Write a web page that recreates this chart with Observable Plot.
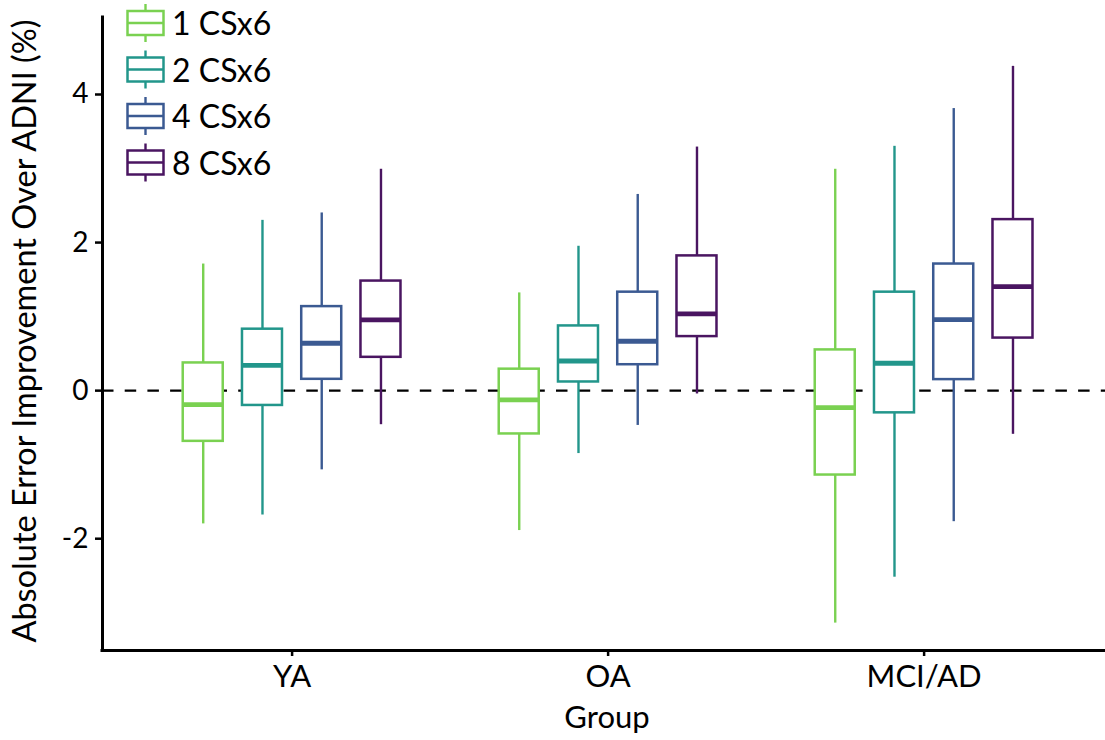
<!DOCTYPE html>
<html>
<head>
<meta charset="utf-8">
<script src="https://cdn.jsdelivr.net/npm/d3@7"></script>
<script src="https://cdn.jsdelivr.net/npm/@observablehq/plot@0.6"></script>
<style>
  html, body { margin: 0; padding: 0; background: white; overflow: hidden; }
  #wrap { position: relative; width: 1105px; height: 740px; }
  #legend { position: absolute; left: 0; top: 0; pointer-events: none; }
</style>
</head>
<body>
<div id="wrap"></div>
<script>
// ---- data ----
const groups = ["YA", "OA", "MCI/AD"];
const series = ["1 CSx6", "2 CSx6", "4 CSx6", "8 CSx6"];
const colors = ["#7AD151", "#22968B", "#3B5A92", "#4A1561"];
// values ordered group-major: YA(1,2,4,8), OA(1,2,4,8), MCI/AD(1,2,4,8)
const lower  = [-1.80, -1.68, -1.07, -0.46,  -1.89, -0.85, -0.47, -0.045,  -3.14, -2.52, -1.77, -0.59];
const q1     = [-0.685, -0.20, 0.153, 0.45,  -0.585, 0.117, 0.35, 0.73,    -1.14, -0.30, 0.149, 0.71];
const median = [-0.19, 0.34, 0.64, 0.955,    -0.126, 0.40, 0.667, 1.036,   -0.23, 0.37, 0.96, 1.405];
const q3     = [0.374, 0.83, 1.135, 1.48,    0.29, 0.874, 1.33, 1.82,      0.55, 1.33, 1.71, 2.31];
const upper  = [1.71, 2.30, 2.40, 2.99,      1.32, 1.95, 2.65, 3.29,       2.99, 3.30, 3.81, 4.38];
const yTicks = [-2, 0, 2, 4];
const yLabel = "Absolute Error Improvement Over ADNI (%)";
const xLabel = "Group";

// ---- layout helpers ----
const dodge = 0.1875;     // spacing between series within a group
const boxHalf = 0.0633;   // half box width
const xDomain = [0.4, 3.574];
const yDomain = [-3.51, 5.04];

const rows = groups.flatMap((g, gi) => series.map((s, si) => {
  const k = gi * series.length + si;
  return {group: g, series: s, pos: gi + 1 + (si - (series.length - 1) / 2) * dodge,
          lower: lower[k], q1: q1[k], median: median[k], q3: q3[k], upper: upper[k]};
}));

const font = "Lato, 'Open Sans', sans-serif";

const chart = Plot.plot({
  width: 1105,
  height: 740,
  marginLeft: 102,
  marginRight: 0,
  marginTop: 17,
  marginBottom: 90,
  style: {fontFamily: font, color: "black", background: "white", overflow: "visible"},
  x: {domain: xDomain},
  y: {domain: yDomain},
  color: {domain: series, range: colors},
  marks: [
    Plot.ruleY([0], {stroke: "black", strokeWidth: 2.4, strokeDasharray: "11.5,11.2"}),
    Plot.ruleX(rows, {x: "pos", y1: "lower", y2: "q1", stroke: "series", strokeWidth: 2.4}),
    Plot.ruleX(rows, {x: "pos", y1: "q3", y2: "upper", stroke: "series", strokeWidth: 2.4}),
    Plot.rect(rows, {x1: d => d.pos - boxHalf, x2: d => d.pos + boxHalf, y1: "q1", y2: "q3",
                     fill: "white", stroke: "series", strokeWidth: 2.5}),
    Plot.ruleY(rows, {y: "median", x1: d => d.pos - boxHalf, x2: d => d.pos + boxHalf,
                      stroke: "series", strokeWidth: 4.8}),
    // axis lines
    Plot.ruleX([xDomain[0]], {stroke: "black", strokeWidth: 3, strokeLinecap: "square"}),
    Plot.ruleY([yDomain[0]], {stroke: "black", strokeWidth: 3, strokeLinecap: "square"}),
    Plot.axisY({ticks: yTicks, tickFormat: d => String(d), tickSize: 7, tickPadding: 7,
                fontSize: 28, strokeWidth: 2.5, label: null}),
    Plot.axisX({ticks: groups.map((g, i) => i + 1), tickFormat: d => groups[d - 1],
                tickSize: 6, tickPadding: 8, fontSize: 31, strokeWidth: 2.5, label: null}),
    Plot.text([yLabel], {frameAnchor: "left", textAnchor: "middle", dx: -77, dy: -3, rotate: -90,
                         fontSize: 32.5, fill: "black"}),
    Plot.text([xLabel], {frameAnchor: "bottom", dx: 3, dy: 77, fontSize: 31, fill: "black"})
  ]
});

const wrap = document.getElementById("wrap");
wrap.appendChild(chart);

// ---- legend (overlay, top-left inside the panel) ----
const leg = d3.select(wrap).append("svg")
  .attr("id", "legend").attr("width", 400).attr("height", 200)
  .style("font-family", font);
const item = leg.selectAll("g").data(series).join("g")
  .attr("transform", (d, i) => `translate(0, ${i * 46.5})`);
item.append("line").attr("x1", 145.5).attr("x2", 145.5).attr("y1", 4).attr("y2", 42)
  .attr("stroke", (d, i) => colors[i]).attr("stroke-width", 2.4);
item.append("rect").attr("x", 127.5).attr("y", 11).attr("width", 36).attr("height", 24)
  .attr("fill", "white").attr("stroke", (d, i) => colors[i]).attr("stroke-width", 2.5);
item.append("line").attr("x1", 127.5).attr("x2", 163.5).attr("y1", 23).attr("y2", 23)
  .attr("stroke", (d, i) => colors[i]).attr("stroke-width", 2.4);
item.append("text").attr("x", 172).attr("y", 35).attr("font-size", 32).attr("fill", "black")
  .text(d => d);
</script>
</body>
</html>
